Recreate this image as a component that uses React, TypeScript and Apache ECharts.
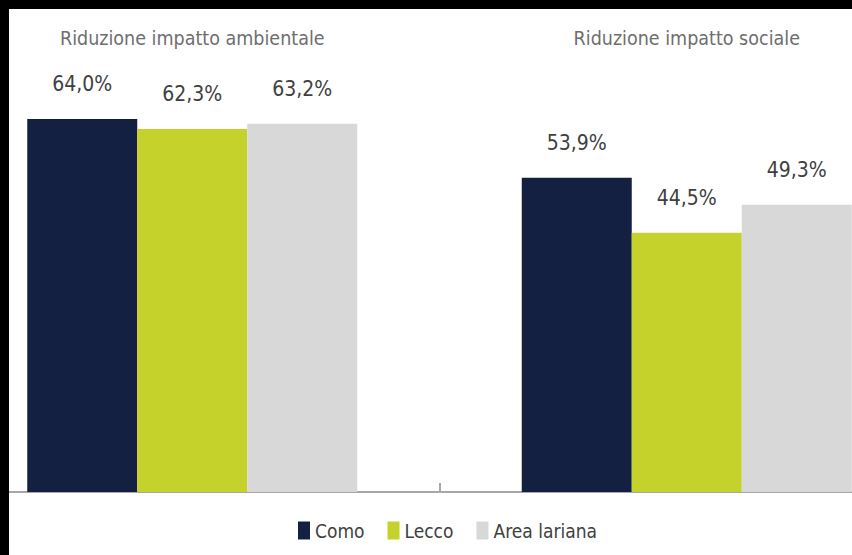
import React, { useEffect, useRef } from "react";
import * as echarts from "echarts";

const categories = ["Riduzione impatto ambientale", "Riduzione impatto sociale"];
const seriesNames = ["Como", "Lecco", "Area lariana"];
const comoValues = [64.0, 53.9];
const leccoValues = [62.3, 44.5];
const areaValues = [63.2, 49.3];

const colors = ["#142042", "#c4d22b", "#d8d8d8"];
const FONT = "'Liberation Sans Narrow', 'DejaVu Sans Condensed', Roboto, sans-serif";

// chart canvas is wider than the visible frame; the reference is a crop
const OFFSET_X = 55;
const CHART_W = 989;

export default function App() {
  const ref = useRef<HTMLDivElement>(null);
  useEffect(() => {
    if (!ref.current) return;
    const chart = echarts.init(ref.current, null, { renderer: "svg" });
    const values = [comoValues, leccoValues, areaValues];
    const fmt = (p: any) => Number(p.value).toFixed(1).replace(".", ",") + "%";
    chart.setOption({
      animation: false,
      backgroundColor: "#ffffff",
      grid: { left: 0, right: 0, top: 84, bottom: 63, containLabel: false },
      xAxis: [
        {
          type: "category",
          data: categories,
          axisLine: { show: true, lineStyle: { color: "#a6a6a6", width: 2 } },
          axisTick: { show: true, inside: true, length: 9, lineStyle: { color: "#a6a6a6", width: 2 } },
          axisLabel: { show: false },
        },
        {
          type: "category",
          position: "top",
          data: categories,
          axisLine: { show: false },
          axisTick: { show: false },
          axisLabel: {
            show: true,
            margin: 36,
            color: "#6e6e6e",
            fontFamily: FONT,
            fontSize: 19.5,
          },
        },
      ],
      yAxis: { type: "value", min: 0, max: 70, show: false, splitLine: { show: false } },
      legend: {
        left: 298 + OFFSET_X,
        top: 521,
        padding: 0,
        itemWidth: 12,
        itemHeight: 18,
        itemGap: 23,
        icon: "rect",
        textStyle: { fontFamily: FONT, fontSize: 19, color: "#404040" },
        data: seriesNames,
      },
      series: seriesNames.map((name, i) => ({
        name,
        type: "bar",
        xAxisIndex: 0,
        data: values[i],
        barWidth: 110,
        barGap: "0%",
        itemStyle: { color: colors[i] },
        emphasis: { disabled: true },
        label: {
          show: true,
          position: "top",
          distance: 24,
          formatter: fmt,
          fontFamily: FONT,
          fontSize: 21,
          color: "#404040",
        },
      })),
      graphic: [
        { type: "rect", z: 100, shape: { x: 0, y: 0, width: CHART_W, height: 9 }, style: { fill: "#000" } },
        { type: "rect", z: 100, shape: { x: OFFSET_X, y: 0, width: 9, height: 555 }, style: { fill: "#000" } },
      ],
    });
    return () => chart.dispose();
  }, []);
  return (
    <div
      style={{ position: "fixed", left: 0, top: 0, width: 852, height: 555, overflow: "hidden", background: "#fff" }}
    >
      <div
        ref={ref}
        style={{ position: "absolute", left: -OFFSET_X, top: 0, width: CHART_W, height: 555 }}
      />
    </div>
  );
}
